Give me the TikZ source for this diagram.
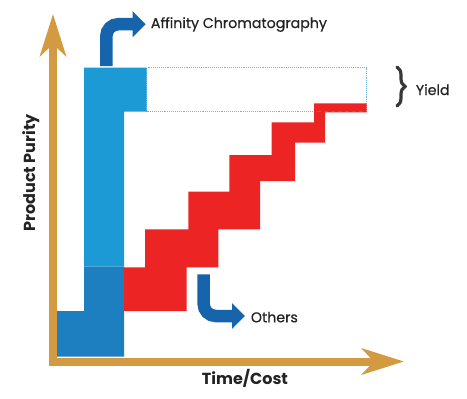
\documentclass[tikz,border=0pt]{standalone}
\usepackage{fontspec}
\setmainfont{Poppins}
\usetikzlibrary{arrows.meta,decorations.pathreplacing}
\definecolor{axisc}{RGB}{212,154,66}
\definecolor{lightblu}{RGB}{27,154,214}
\definecolor{darkblu}{RGB}{30,127,192}
\definecolor{arrowblu}{RGB}{22,100,172}
\definecolor{stairred}{RGB}{237,36,36}
\definecolor{dotblu}{RGB}{110,185,225}
\definecolor{textc}{RGB}{35,35,35}
\begin{document}
\begin{tikzpicture}[x=1pt,y=-1pt,
  axis/.style={draw=axisc,line width=8pt,
    {Stealth[length=42pt,width=26pt,inset=12pt]}-{Stealth[length=42pt,width=26pt,inset=12pt]}},
  flowarrow/.style={draw=arrowblu,line width=12.5pt,rounded corners=12pt,
    -{Triangle[length=13pt,width=25pt]}},
  lbl/.style={inner sep=0pt,anchor=base west,text=textc,font=\fontsize{14.2}{16}\selectfont\addfontfeature{FakeBold=0.5}},
  axlbl/.style={inner sep=0pt,anchor=base west,text=textc,font=\bfseries\fontsize{16}{18}\selectfont}]
\useasboundingbox (0,0) rectangle (467,399);

% yield box
\draw[dotblu,densely dotted,line width=0.9pt] (146.7,67.7) rectangle (366.7,111.7);

% blue bars
\fill[lightblu] (84,266.7) -- (84,67.7) -- (146.7,67.7) -- (146.7,111.7) -- (124,111.7) -- (124,266.7) -- cycle;
\fill[darkblu] (56.7,311) -- (84,311) -- (84,266.7) -- (124,266.7) -- (124,356.7) -- (56.7,356.7) -- cycle;

% red staircase
\fill[stairred] (124,311) -- (124,267.3) -- (145,267.3) -- (145,229.3) -- (188.3,229.3) -- (188.3,191.7)
  -- (229.3,191.7) -- (229.3,155) -- (271.7,155) -- (271.7,122.3) -- (314,122.3) -- (314,103.3)
  -- (366.7,103.3) -- (366.7,112.3) -- (325,112.3) -- (325,142.7) -- (295,142.7) -- (295,181)
  -- (260,181) -- (260,229.3) -- (218.3,229.3) -- (218.3,267.3) -- (186.7,267.3) -- (186.7,311) -- cycle;
\draw[black!55,dashed,dash pattern=on 4pt off 3pt,line width=0.8pt] (317,111.7) -- (366.7,111.7);

% axes
\coordinate (ytip) at (53,14);
\coordinate (corner) at (53,361.5);
\coordinate (xtip) at (404,361.5);
\draw[axis,line join=miter] (ytip) -- (corner) -- (xtip);

% labels
\node[lbl] (aff) at (150.7,28) {Affinity Chromatography};
\node[lbl] (oth) at (250.7,322.3) {Others};
\node[lbl] (yld) at (415.7,95) {Yield};
\node[axlbl] (tc) at (201.7,384) {Time/Cost};
\node[axlbl,rotate=90] (pp) at (35,231.7) {Product Purity};

% flow arrows
\coordinate (affS) at (106.3,66);
\coordinate (affC) at (106.3,24.2);
\coordinate (affE) at (145.7,24.2);
\draw[flowarrow] (affS) -- (affC) -- (affE);
\coordinate (othS) at (203.7,274.3);
\coordinate (othC) at (203.7,316);
\coordinate (othE) at (245,316);
\draw[flowarrow] (othS) -- (othC) -- (othE);

% brace
\coordinate (brT) at (397,67);
\coordinate (brB) at (397,106);
\draw[black!78,line width=3.2pt,line cap=round,decorate,decoration={brace,amplitude=8pt}] (brT) -- (brB);
\end{tikzpicture}
\end{document}
